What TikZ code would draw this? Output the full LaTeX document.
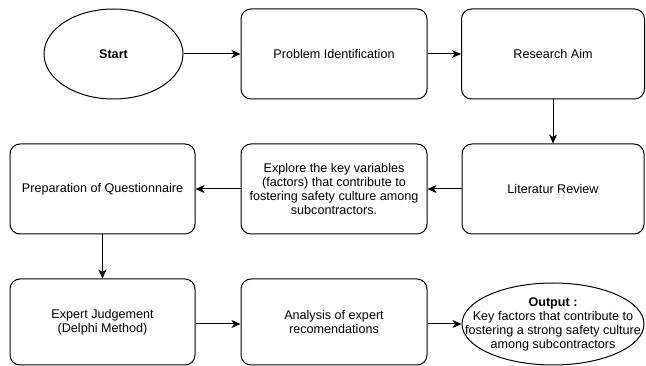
\documentclass[tikz,border=0pt]{standalone}
\usepackage{fontspec}
\setmainfont{Liberation Sans}
\usetikzlibrary{arrows.meta,shapes.geometric}
\begin{document}
\begin{tikzpicture}[x=1pt,y=-1pt,
  box/.style={draw,line width=1pt,rounded corners=10pt,minimum width=185pt,minimum height=90pt,align=center,inner sep=0pt,font=\fontsize{12.6}{14}\selectfont},
  oval/.style={draw,line width=1pt,ellipse,inner sep=0pt,align=center,font=\fontsize{12.6}{14}\selectfont},
  txt/.style={align=center,inner sep=0pt,font=\fontsize{12.6}{14}\selectfont},
  arr/.style={line width=1pt,-{Stealth[length=9pt,width=8pt,inset=2.5pt]}}]
\useasboundingbox (0,0) rectangle (646,366);
\node[oval,minimum width=139pt,minimum height=90pt] (start) at (113.5,54) {\textbf{Start}};
\node[box,minimum width=186pt] (pi) at (334,54) {Problem Identification};
\node[box,minimum width=183pt] (ra) at (553,54) {Research Aim};
\node[box,minimum width=182pt] (lr) at (553,189) {Literatur Review};
\node[box,minimum width=186pt] (ex) at (334,189) {Explore the key variables\\(factors) that contribute to\\fostering safety culture among\\subcontractors.};
\node[box] (pq) at (102.5,189) {Preparation of Questionnaire};
\node[box,minimum height=86pt] (ej) at (102.5,322) {Expert Judgement\\(Delphi Method)};
\node[box,minimum width=186pt,minimum height=86pt] (an) at (334,322) {Analysis of expert\\recomendations};
\node[oval,minimum width=182pt,minimum height=82pt] (out) at (553,324) {};
\node[txt] (outtext) at (out.center) {\textbf{Output :}\\Key factors that contribute to\\fostering a strong safety culture\\among subcontractors};
\draw[arr] (start.east) -- (pi.west);
\draw[arr] (pi.east) -- (ra.west);
\draw[arr] (ra.south) -- (lr.north);
\draw[arr] (lr.west) -- (ex.east);
\draw[arr] (ex.west) -- (pq.east);
\draw[arr] (pq.south) -- (ej.north);
\draw[arr] (ej.east |- out.center) -- (an.west |- out.center);
\draw[arr] (an.east |- out.center) -- (out.west);
\end{tikzpicture}
\end{document}
